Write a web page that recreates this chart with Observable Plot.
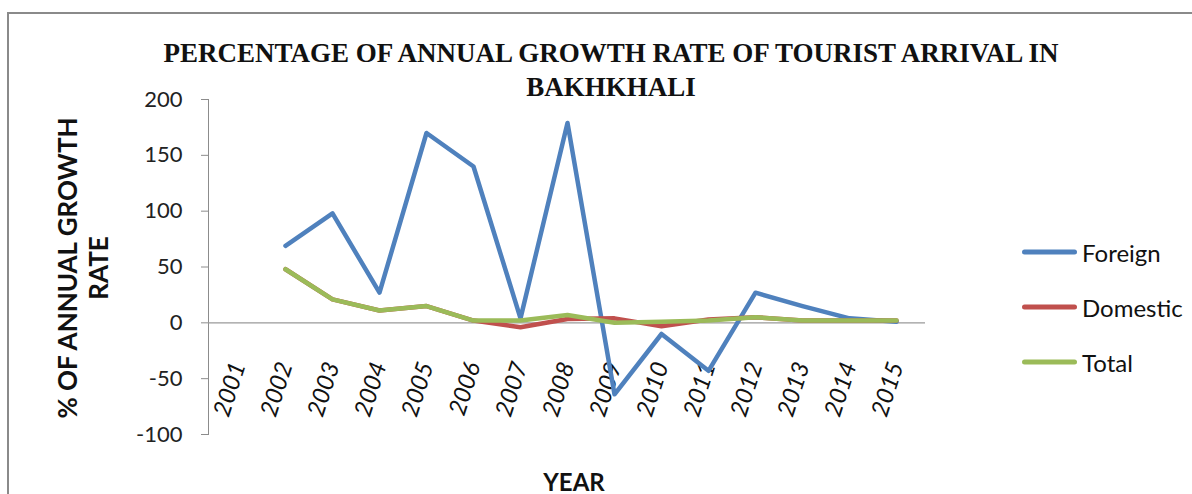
<!DOCTYPE html>
<html><head><meta charset="utf-8">
<script src="https://cdn.jsdelivr.net/npm/d3@7"></script>
<script src="https://cdn.jsdelivr.net/npm/@observablehq/plot@0.6"></script>
<style>
html,body{margin:0;padding:0;background:#fff;}
#wrap{position:relative;width:1192px;height:494px;overflow:hidden;font-family:Lato,"Open Sans",sans-serif;}
#border{position:absolute;left:7px;top:12px;right:-10px;bottom:-10px;border-top:2px solid #8a8a8a;border-left:2px solid #8a8a8a;}
#title{position:absolute;left:0;width:1222px;top:36px;text-align:center;font-family:"Liberation Serif","DejaVu Serif",serif;font-weight:bold;font-size:27px;line-height:34px;color:#111;}
.ylab{position:absolute;font-weight:bold;font-size:26px;line-height:30px;color:#111;transform:translate(-50%,-50%) rotate(-90deg);white-space:nowrap;}
#xlab{position:absolute;left:574px;top:481px;transform:translate(-50%,-50%);font-weight:bold;font-size:24px;color:#111;}
#plot{position:absolute;left:0;top:0;}
.leg{position:absolute;left:1022px;font-size:24px;color:#111;display:flex;align-items:center;transform:translateY(-50%);}
.leg span.sw{display:inline-block;width:55px;height:5px;border-radius:3px;margin-right:5px;}
</style></head>
<body><div id="wrap">
<div id="border"></div>
<div id="title">PERCENTAGE OF ANNUAL GROWTH RATE OF TOURIST ARRIVAL IN<br>BAKHKHALI</div>
<div class="ylab" style="left:67px;top:268px;">% OF ANNUAL GROWTH</div>
<div class="ylab" style="left:98px;top:268px;">RATE</div>
<div id="xlab">YEAR</div>
<div id="plot"></div>
<div id="legend"></div>
</div>
<script>
const years = ["2001","2002","2003","2004","2005","2006","2007","2008","2009","2010","2011","2012","2013","2014","2015"];
const foreign  = [null, 69, 98, 27, 170, 140, 4, 179, -64, -10, -43, 27, 15, 4, 1];
const domestic = [null, 48, 21, 11, 15, 2, -4, 3.5, 4, -3, 3, 5, 2, 2, 2];
const total    = [null, 48, 21, 11, 15, 2, 2, 7, 0, 1, 2, 5, 2, 2, 2];
const seriesNames = ["Foreign","Domestic","Total"];
const seriesColors = ["#4f81bd","#c0504d","#9bbb59"];
const yTicks = [-100,-50,0,50,100,150,200];

const rows = [];
[foreign, domestic, total].forEach((vals, si) => {
  vals.forEach((v, i) => { if (v !== null) rows.push({year: years[i], value: v, series: seriesNames[si]}); });
});

const chart = Plot.plot({
  width: 1192, height: 494,
  marginLeft: 208, marginRight: 267, marginTop: 99, marginBottom: 60,
  style: {fontFamily: "Lato, 'Open Sans', sans-serif", background: "transparent", overflow: "visible"},
  x: {type: "point", domain: years, axis: null},
  y: {domain: [-100, 200], ticks: yTicks, label: null},
  color: {domain: seriesNames, range: seriesColors},
  marks: [
    Plot.frame({anchor: "left", stroke: "#8c8c8c"}),
    Plot.axisY({ticks: yTicks, tickSize: 7, tickPadding: 19, tickFormat: d => String(d), fontSize: 22, stroke: "#8c8c8c", fill: "#222", label: null}),
    Plot.ruleY([0], {stroke: "#9a9a9a", strokeWidth: 1.2}),
    Plot.text(years, {x: d => d, y: () => 0, text: d => d, rotate: -72, textAnchor: "end", dx: 0, dy: 40, fontSize: 24, fontStyle: "italic", fill: "#111"}),
    Plot.line(rows, {x: "year", y: "value", z: "series", stroke: "series", strokeWidth: 4.5, strokeLinejoin: "round", strokeLinecap: "round"})
  ]
});
document.getElementById("plot").appendChild(chart);

const leg = document.getElementById("legend");
const legY = [252, 307, 362];
seriesNames.forEach((n, i) => {
  const d = document.createElement("div");
  d.className = "leg";
  d.style.top = legY[i] + "px";
  d.innerHTML = `<span class="sw" style="background:${seriesColors[i]}"></span>${n}`;
  leg.appendChild(d);
});
</script>
</body></html>
